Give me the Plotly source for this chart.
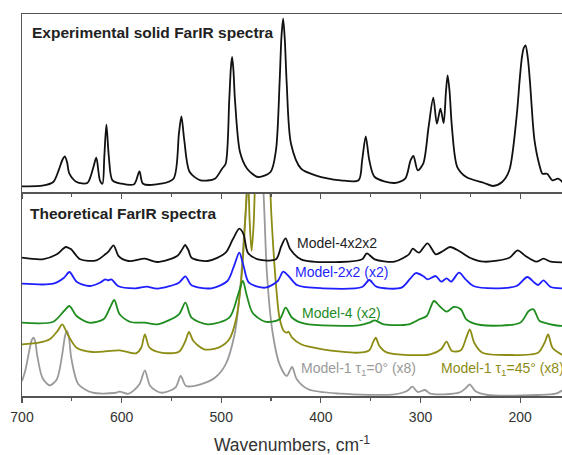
import plotly.graph_objects as go

# ---------------- data ----------------
# Experimental spectrum (top panel), intensity in arbitrary units
exp_x = [700, 679.5, 668.6, 663.2, 659.5, 657, 654.8, 652.4, 645.2, 634.4, 628.3, 625.4, 621.8, 619.2,
         617.4, 615.3, 612.8, 609.2, 600.1, 587.5, 582.1, 578.5, 560.5, 547.9, 542.5, 540, 537.1,
         531.7, 520.8, 506.4, 499.2, 495.6, 492, 490.3, 489.1, 487.8, 486.2, 481.2, 474, 463.2, 450.5,
         445.1, 441.5, 439.6, 437.9, 436.2, 434.3, 430, 419.9, 405.5, 380.2, 362.2, 358.6, 355, 351.4,
         346, 326.2, 315.4, 310, 307.1, 302.8, 297.3, 291.9, 287.2, 283.6, 280, 276.8, 274.5, 272.8,
         270.8, 268.5, 263.1, 254.1, 236.1, 227.1, 218.1, 210.9, 203.6, 200.5, 198.2, 196.4, 194.6,
         192.3, 190, 187.5, 185.6, 181, 177.6, 173, 167.6, 162.1, 157.5]
exp_y = [5.7, 6.3, 10, 21.7, 32, 35.7, 30, 18.3, 10, 9, 25, 34.3, 11.7, 8.3,
         35, 67.3, 35, 11.7, 8.3, 7.7, 20.7, 8.3, 8.3, 13.3, 58.3, 75.7, 51.7,
         20, 11.7, 13.3, 23.3, 28.3, 91.7, 125, 135, 122, 91.7, 40, 23.3, 15, 20,
         41.7, 108.3, 155, 173.3, 152, 108.3, 48.3, 23.3, 16.7, 11.7, 11.7, 31.7, 55.7, 31.7,
         15, 9, 13.3, 31.7, 36, 21.7, 28.3, 65, 94.3, 68.3, 83.3, 69, 100, 116.7,
         100, 65, 25, 15, 9, 6, 10, 21.7, 75, 112, 135, 144, 146.7,
         134, 108.3, 72, 51.7, 28.3, 18.3, 18.3, 11.7, 13.3, 10]

# Theoretical spectra (bottom panel, vertically offset)
m4x2x2_x = [700, 679.5, 665, 659, 656, 653, 650.6, 641.6, 625.4, 616.4, 612.8, 608.1, 603, 592.9,
            576.7, 564.1, 544.3, 539, 536.3, 533, 529.8, 513.6, 495.6, 488.4, 481.9, 477.6, 473.3,
            463.2, 445.1, 439.7, 435.4, 430.7, 419.9, 380.2, 358.6, 353.9, 346, 326.2, 311.7, 307.8,
            301.6, 293, 284.7, 277.5, 270.3, 261.3, 250.5, 236.1, 210.8, 202.5, 194.6, 183.8, 176.6,
            169.3, 157.5]
m4x2x2_y = [138.3, 136.7, 141.7, 147, 149, 148, 146.7, 136.7, 135.7, 141.7, 145, 150.7, 140, 135,
            137.3, 134, 140, 147, 151, 146, 138.3, 135, 143.3, 156.7, 167.3, 161.7, 143.3,
            136.7, 136.7, 150, 157.7, 146.7, 136.7, 134, 136.7, 142.7, 136.7, 134.3, 141.7, 147.3,
            143.3, 152.7, 141.7, 145, 149, 145, 138.3, 134.3, 138.3, 145.7, 140, 134.3, 137.3,
            134.3, 133.7]

m2x2_x = [700, 668.6, 657.8, 652.4, 645.2, 632.6, 621.8, 616.4, 613.8, 610.2, 603.7, 585.7, 574.9, 564.1,
          542.5, 536, 529.8, 510, 493.8, 486.6, 481.9, 477.6, 472.2, 456, 443.3, 437.9, 432.5, 423.5,
          398.3, 358.6, 351.4, 344.3, 319.1, 310.1, 304.6, 297.4, 293, 284.7, 279.2, 273.8, 269.4,
          261.3, 254.8, 246.9, 225.3, 203.6, 192.8, 185.6, 182, 176.6, 169.4, 157.5]
m2x2_y = [112.3, 112.3, 118.3, 124, 114.3, 110, 113.3, 116.7, 115.7, 116.7, 110, 107.7, 109.3, 107.3,
          113.3, 119.7, 110.7, 107.7, 115, 131.7, 143.3, 130, 113.3, 108.3, 115, 124.3, 120, 110.7,
          107.7, 109, 116, 109.3, 108.3, 117.7, 123, 120, 116.7, 120, 114.3, 117.7, 114.3,
          123.3, 116.7, 110, 107.7, 110, 119, 113.3, 111, 115.7, 109, 107.7]

m4_x = [700, 668.6, 657.8, 652.4, 645.2, 632.6, 618.2, 611.7, 607.4, 602, 591.1, 576.7, 564.1, 542.5,
        536, 529.8, 513.6, 492, 483, 478.3, 474.7, 468.6, 456, 441.5, 435.4, 428.9, 416.3, 362.2,
        351.4, 346, 337, 311.7, 301, 293.8, 286.5, 281, 273.8, 266.7, 259.5, 254.1, 239.6, 200,
        191.4, 186.7, 180.5, 173.4, 166.2, 157.5]
m4_y = [73.3, 74.3, 85, 90, 80, 73.3, 76.7, 88.3, 96, 81.7, 74, 73.3, 71.7, 81.7,
        93.3, 78.3, 71.7, 78.3, 101.7, 115, 101.7, 83.3, 74.3, 76.7, 88.3, 78.3, 72.3, 70.7,
        73.3, 75.7, 71.7, 71.7, 76.7, 80, 95, 90, 84.3, 89, 86.7, 76.7, 71, 73.3,
        85, 86.7, 75, 72.7, 71, 70]

m1_45_x = [700, 683.1, 672.2, 664.3, 659.6, 654.2, 645.2, 629, 602, 585.7, 580.3, 576.7, 572, 560.5,
           542.5, 536, 532.4, 528, 517.2, 502.8, 492, 484.8, 479.4, 475.8, 473.3, 471.5, 469.6, 467.5,
           465.3, 460, 451.6, 449.5, 445.1, 441.5, 437.2, 434.3, 432.5, 428.9, 419.9, 398.3, 362.2,
           351.4, 347.8, 344.9, 341.3, 333.4, 290.1, 279.3, 273.9, 268.5, 259.5, 254.1, 250.5, 246.1,
           237.8, 210.8, 182, 175.5, 171.9, 167.6, 157.5]
m1_45_y = [51.7, 53.3, 56.7, 65, 71.7, 61.7, 48.3, 44, 45.7, 42.7, 48.3, 61.7, 48.3, 43.3,
           44.3, 55, 64, 55, 46.7, 48.3, 56.7, 78.3, 121.7, 178.3, 225, 175, 145, 171.7,
           238, 320, 221.7, 177, 111.7, 78, 65, 63.3, 64.3, 58.3, 51.7, 46.7, 43.3,
           45.7, 53.3, 58.3, 50, 43.3, 41.7, 46.7, 54.3, 45, 45.7, 58.3, 66.7, 53.3,
           43.3, 41, 43.3, 53.3, 61.7, 48.3, 41]

m1_0_x = [700, 696.8, 692.1, 690.2, 688.5, 686.6, 684.9, 679.5, 672.2, 665, 659.6, 656.8, 654.9, 652.8,
          650.6, 643.4, 629, 607.4, 602, 592.9, 582.1, 576.7, 571.3, 560.5, 546.1, 540.7, 535.3,
          520.8, 506.4, 495.6, 486.6, 481.2, 477.6, 474, 466, 457.7, 454.1, 448.7, 441.5, 434.3,
          428.9, 424.2, 412.7, 380.2, 326.2, 313.6, 308.2, 302.8, 295.5, 290.1, 261.3, 254.1, 250.5,
          245.1, 232.5, 182, 164.4, 157.5]
m1_0_y = [15, 25, 48.3, 56, 58.3, 54, 41.7, 18.3, 10.7, 16.7, 41.7, 60, 65, 58,
          38.3, 11.7, 3.3, 3, 4.3, 2.3, 11.7, 25.7, 10, 3.3, 8.3, 20, 10,
          11.7, 18.3, 31.7, 61.7, 105, 155, 205, 330, 205, 121.7, 65, 31.7, 20,
          29, 16.7, 6.7, 2.3, 1.7, 5, 9.3, 4, 6, 2.3, 3.3, 8.3, 11.7,
          5, 1, 1, 2.3, 5.7]

series_names = ["Model-4x2x2", "Model-2x2 (x2)", "Model-4 (x2)",
                "Model-1 τ<sub>1</sub>=45° (x8)", "Model-1 τ<sub>1</sub>=0° (x8)"]
series_colors = ["#111111", "#1f1fff", "#1e8c1e", "#8c8c14", "#9a9a9a"]
tick_vals = [700, 600, 500, 400, 300, 200]
tick_text = ["700", "600", "500", "400", "300", "200"]

# ---------------- figure ----------------
fig = go.Figure()

fig.add_trace(go.Scatter(x=exp_x, y=exp_y, mode="lines", xaxis="x2", yaxis="y2",
                         line=dict(color="#111111", width=1.8, shape="spline", smoothing=0.8),
                         showlegend=False, hoverinfo="skip"))

theo = [(m4x2x2_x, m4x2x2_y), (m2x2_x, m2x2_y), (m4_x, m4_y), (m1_45_x, m1_45_y), (m1_0_x, m1_0_y)]
order = [4, 3, 2, 1, 0]
for i in order:
    xs, ys = theo[i]
    fig.add_trace(go.Scatter(x=xs, y=ys, mode="lines", xaxis="x", yaxis="y",
                             line=dict(color=series_colors[i], width=1.8, shape="spline", smoothing=0.8),
                             name=series_names[i], showlegend=False, hoverinfo="skip"))

font_family = "Liberation Sans, Arial, sans-serif"
frame_col = "#555555"

fig.update_layout(
    width=562, height=455,
    margin=dict(l=22, r=0, t=14, b=59),
    paper_bgcolor="white", plot_bgcolor="white",
    font=dict(family=font_family, size=14, color="#333333"),
    xaxis=dict(domain=[0, 1], anchor="y", range=[700, 158], automargin=False,
               tickmode="array", tickvals=tick_vals, ticktext=tick_text,
               ticks="outside", ticklen=5, tickwidth=1.2, tickcolor=frame_col,
               ticklabelstandoff=3,
               minor=dict(ticks="outside", dtick=50, tick0=0, ticklen=3, tickwidth=1.2, tickcolor=frame_col),
               showline=True, linecolor=frame_col, linewidth=1.5, mirror=False,
               showgrid=False, zeroline=False,
               tickfont=dict(size=14, color="#333333"),
               title=dict(text="Wavenumbers, cm<sup>-1</sup>", font=dict(size=17.5, color="#333333"), standoff=18)),
    yaxis=dict(domain=[0, 0.534], anchor="x", range=[0, 204], automargin=False,
               showline=True, linecolor=frame_col, linewidth=1.5,
               showticklabels=False, ticks="", showgrid=False, zeroline=False),
    xaxis2=dict(domain=[0, 1], anchor="y2", range=[700, 158], matches="x", automargin=False,
                tickmode="array", tickvals=tick_vals,
                ticks="outside", ticklen=5, tickwidth=1.2, tickcolor=frame_col,
                minor=dict(ticks="outside", dtick=50, tick0=0, ticklen=3, tickwidth=1.2, tickcolor=frame_col),
                showticklabels=False,
                showline=True, linecolor=frame_col, linewidth=1.5, mirror=True,
                showgrid=False, zeroline=False),
    yaxis2=dict(domain=[0.534, 1], anchor="x2", range=[0, 178], automargin=False,
                showline=True, linecolor=frame_col, linewidth=1.5,
                showticklabels=False, ticks="", showgrid=False, zeroline=False),
)

# panel titles
fig.add_annotation(x=692, y=160, xref="x2", yref="y2", xanchor="left", yanchor="middle",
                   text="<b>Experimental solid FarIR spectra</b>", showarrow=False,
                   font=dict(size=15.5, color="#222222", family=font_family))
fig.add_annotation(x=694, y=183, xref="x", yref="y", xanchor="left", yanchor="middle",
                   text="<b>Theoretical FarIR spectra</b>", showarrow=False,
                   font=dict(size=15.5, color="#222222", family=font_family))

# series labels
label_pos = [(426.3, 153.3), (427.8, 124), (420.6, 83.3), (281, 27.3), (421.7, 27.3)]
for i in range(5):
    lx, ly = label_pos[i]
    fig.add_annotation(x=lx, y=ly, xref="x", yref="y", xanchor="left", yanchor="middle",
                       text=series_names[i], showarrow=False,
                       font=dict(size=14, color=series_colors[i] if i != 0 else "#222222", family=font_family))

fig.write_html("out.html",
               config={"displayModeBar": False, "staticPlot": True},
               post_script="document.body.style.margin='0px';document.body.style.padding='0px';"
                           "document.body.style.overflow='hidden';")
